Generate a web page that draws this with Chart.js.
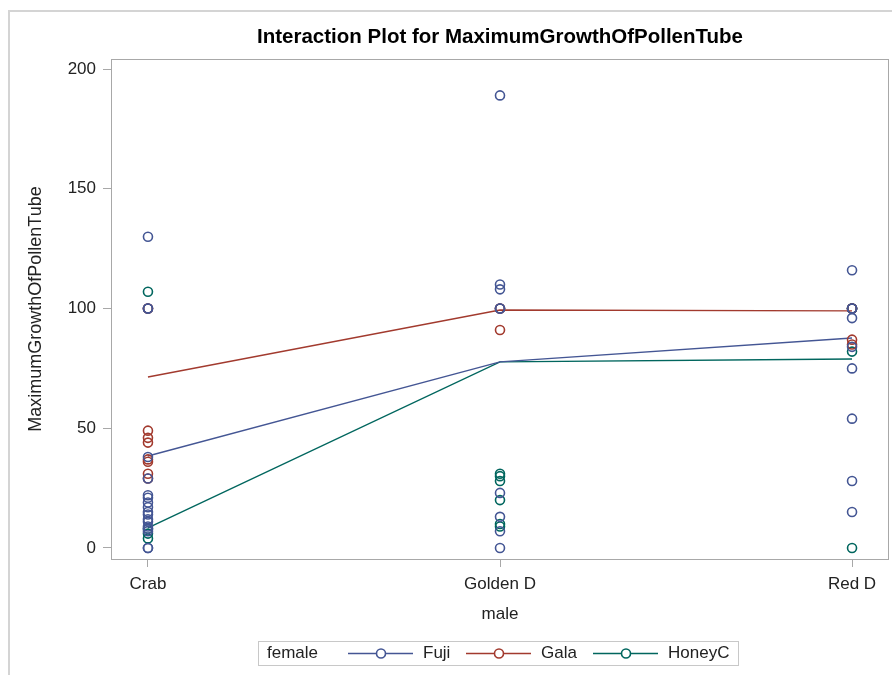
<!DOCTYPE html>
<html>
<head>
<meta charset="utf-8">
<script src="https://cdn.jsdelivr.net/npm/chart.js@4.4.1/dist/chart.umd.min.js"></script>
<style>
  html, body { margin: 0; padding: 0; background: #fff; }
  #wrap { width: 892px; height: 675px; }
</style>
</head>
<body>
<div id="wrap"><canvas id="chart" width="892" height="675"></canvas></div>
<script>
// categories of the x axis (male) and the series (female)
const categories = ['Crab', 'Golden D', 'Red D'];
const seriesNames = ['Fuji', 'Gala', 'HoneyC'];
const yTicks = [0, 50, 100, 150, 200];
const chartTitle = 'Interaction Plot for MaximumGrowthOfPollenTube';

// observed values, one array per female x male cell
const fujiCrab = [130, 100, 100, 38, 29, 22, 21, 19, 17, 15, 14, 12, 11, 9, 8, 7, 0, 0];
const fujiGolden = [189, 110, 108, 100, 100, 23, 13, 7, 0];
const fujiRed = [116, 100, 100, 96, 84, 75, 54, 28, 15];

const galaCrab = [100, 100, 49, 46, 44, 37, 36, 31, 29];
const galaGolden = [100, 100, 91];
const galaRed = [100, 100, 87, 85];

const honeyCrab = [107, 8, 6, 4];
const honeyGolden = [31, 30, 28, 20, 10, 9];
const honeyRed = [100, 100, 82, 0];

// cell means (the lines of the interaction plot)
const fujiMean = [38.4, 77.7, 87.7];
const galaMean = [71.4, 99.4, 99.0];
const honeyMean = [8.4, 77.7, 78.9];

const colors = ['#445694', '#A23A2E', '#01665E'];
const FONT = '"Liberation Sans", Arial, sans-serif';

function cellPoints(cells) {
    const pts = [];
    cells.forEach((vals, i) => vals.forEach(v => pts.push({ x: i, y: v })));
    return pts;
}
function meanPoints(means) {
    return means.map((v, i) => ({ x: i, y: v }));
}

const obs = [
    cellPoints([fujiCrab, fujiGolden, fujiRed]),
    cellPoints([galaCrab, galaGolden, galaRed]),
    cellPoints([honeyCrab, honeyGolden, honeyRed])
];
const means = [meanPoints(fujiMean), meanPoints(galaMean), meanPoints(honeyMean)];

const datasets = [];
seriesNames.forEach((name, i) => {
    datasets.push({
        label: name,
        data: obs[i],
        showLine: false,
        pointStyle: 'circle',
        pointRadius: 4.5,
        pointBorderWidth: 1.6,
        pointBackgroundColor: 'rgba(0,0,0,0)',
        borderColor: colors[i],
        order: i
    });
});
seriesNames.forEach((name, i) => {
    datasets.push({
        label: name + ' mean',
        data: means[i],
        showLine: true,
        pointRadius: 0,
        borderWidth: 1.4,
        borderColor: colors[i],
        fill: false,
        order: 3 + i
    });
});

// title, frame around plot area, outer page frame and legend box
const decor = {
    id: 'decor',
    afterDraw(chart) {
        const ctx = chart.ctx;
        const a = chart.chartArea;
        ctx.save();
        // outer frame
        ctx.strokeStyle = '#d4d4d4';
        ctx.lineWidth = 2;
        ctx.beginPath();
        ctx.moveTo(9, 675); ctx.lineTo(9, 11); ctx.lineTo(892, 11);
        ctx.stroke();
        // title centred over the plot area
        ctx.font = 'bold 20.5px ' + FONT;
        ctx.fillStyle = '#000';
        ctx.textAlign = 'center';
        ctx.textBaseline = 'middle';
        ctx.fillText(chartTitle, (a.left + a.right) / 2, 37);
        // plot frame
        ctx.strokeStyle = '#a8a8a8';
        ctx.lineWidth = 1;
        ctx.strokeRect(Math.round(a.left) + 0.5, Math.round(a.top) + 0.5,
            Math.round(a.right - a.left) - 1, Math.round(a.bottom - a.top));
        // legend
        const top = 641, h = 24;
        ctx.strokeStyle = '#c8c8c8';
        ctx.strokeRect(258.5, top + 0.5, 480, h);
        ctx.font = '17px ' + FONT;
        ctx.textAlign = 'left';
        ctx.fillStyle = '#222';
        const cy = top + h / 2 + 0.5;
        ctx.fillText('female', 267, cy);
        const items = [348, 466, 593];
        seriesNames.forEach((name, i) => {
            const x0 = items[i];
            ctx.strokeStyle = colors[i];
            ctx.lineWidth = 1.3;
            ctx.beginPath();
            ctx.moveTo(x0, cy); ctx.lineTo(x0 + 65, cy);
            ctx.stroke();
            ctx.fillStyle = '#fff';
            ctx.beginPath();
            ctx.arc(x0 + 33, cy, 4.5, 0, Math.PI * 2);
            ctx.fill();
            ctx.lineWidth = 1.6;
            ctx.stroke();
            ctx.fillStyle = '#222';
            ctx.fillText(name, x0 + 75, cy);
        });
        ctx.restore();
    }
};

new Chart(document.getElementById('chart'), {
    type: 'scatter',
    data: { datasets: datasets },
    options: {
        responsive: false,
        animation: false,
        devicePixelRatio: 1,
        layout: { autoPadding: false, padding: { left: 0, right: 3, top: 59, bottom: 0 } },
        plugins: {
            legend: { display: false },
            tooltip: { enabled: false },
            title: { display: false }
        },
        scales: {
            x: {
                type: 'linear',
                min: -0.105,
                max: 2.105,
                afterBuildTicks: s => { s.ticks = categories.map((c, i) => ({ value: i })); },
                afterFit: s => { s.height = 116; s.paddingLeft = 0; s.paddingRight = 0; },
                ticks: {
                    callback: v => categories[v],
                    color: '#222',
                    font: { family: FONT, size: 17 },
                    padding: 7,
                    maxRotation: 0,
                    autoSkip: false
                },
                grid: { drawOnChartArea: false, tickLength: 8, color: '#a8a8a8' },
                border: { display: false },
                title: {
                    display: true,
                    text: 'male',
                    color: '#222',
                    font: { family: FONT, size: 17, lineHeight: 1.2 },
                    padding: { bottom: 50 }
                }
            },
            y: {
                min: -4.6,
                max: 204.2,
                afterBuildTicks: s => { s.ticks = yTicks.map(v => ({ value: v })); },
                afterFit: s => { s.width = 111; s.paddingTop = 0; s.paddingBottom = 0; },
                ticks: {
                    color: '#222',
                    font: { family: FONT, size: 17 },
                    padding: 7
                },
                grid: { drawOnChartArea: false, tickLength: 8, color: '#a8a8a8' },
                border: { display: false },
                title: {
                    display: true,
                    text: 'MaximumGrowthOfPollenTube',
                    color: '#222',
                    font: { family: FONT, size: 18, lineHeight: 1.2 },
                    padding: { top: 25 }
                }
            }
        }
    },
    plugins: [decor]
});
</script>
</body>
</html>
